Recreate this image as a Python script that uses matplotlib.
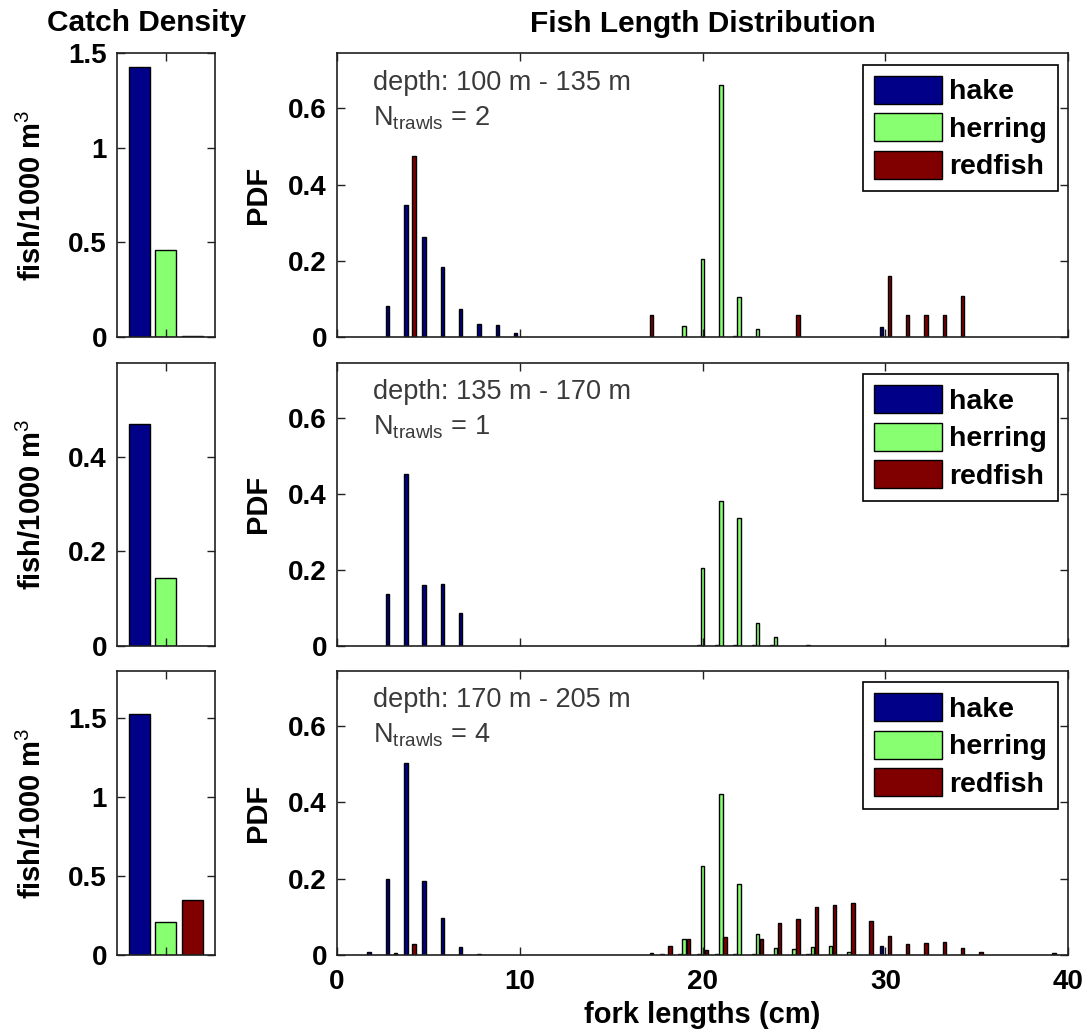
import numpy as np
import matplotlib
matplotlib.use("Agg")
import matplotlib.pyplot as plt
from matplotlib.patches import Patch
from matplotlib.ticker import FuncFormatter

plt.rcParams["font.family"] = ["Liberation Sans", "DejaVu Sans"]
plt.rcParams["mathtext.fontset"] = "custom"
plt.rcParams["mathtext.rm"] = "Liberation Sans"
plt.rcParams["mathtext.it"] = "Liberation Sans"

species = ["hake", "herring", "redfish"]
colors = ["#000088", "#88FF70", "#800000"]

depth_labels = ["depth: 100 m - 135 m", "depth: 135 m - 170 m", "depth: 170 m - 205 m"]
n_trawls = [2, 1, 4]

# catch density (fish / 1000 m^3), order hake, herring, redfish
density_1 = [1.43, 0.46, 0.005]
density_2 = [0.47, 0.143, 0.0]
density_3 = [1.524, 0.209, 0.350]
density_ylim = [1.5, 0.6, 1.8]
density_ticks = [[0, 0.5, 1, 1.5], [0, 0.2, 0.4], [0, 0.5, 1, 1.5]]

# length distributions (sparse: fork length cm -> PDF)
hake_len_1 = [3, 4, 5, 6, 7, 8, 9, 10, 22, 30]
hake_pdf_1 = [0.080, 0.346, 0.262, 0.183, 0.072, 0.034, 0.030, 0.011, 0.003, 0.025]
herring_len_1 = [19, 20, 21, 22, 23]
herring_pdf_1 = [0.027, 0.203, 0.661, 0.104, 0.020]
redfish_len_1 = [4, 17, 25, 30, 31, 32, 33, 34]
redfish_pdf_1 = [0.475, 0.058, 0.057, 0.159, 0.057, 0.057, 0.057, 0.108]

hake_len_2 = [3, 4, 5, 6, 7, 20, 21, 22, 23, 24, 26]
hake_pdf_2 = [0.135, 0.452, 0.159, 0.163, 0.085, 0.003, 0.003, 0.003, 0.003, 0.003, 0.003]
herring_len_2 = [20, 21, 22, 23, 24]
herring_pdf_2 = [0.204, 0.382, 0.335, 0.060, 0.023]
redfish_len_2 = []
redfish_pdf_2 = []

hake_len_3 = [2, 3, 4, 5, 6, 7, 8, 18, 19, 20, 21, 22, 23, 26, 30]
hake_pdf_3 = [0.009, 0.198, 0.502, 0.193, 0.096, 0.020, 0.003,
              0.003, 0.003, 0.003, 0.003, 0.003, 0.003, 0.003, 0.023]
herring_len_3 = [19, 20, 21, 22, 23, 24, 25, 26, 27, 28]
herring_pdf_3 = [0.041, 0.233, 0.422, 0.187, 0.054, 0.019, 0.015, 0.020, 0.023, 0.009]
redfish_len_3 = [3, 4, 17, 18, 19, 20, 21, 23, 24, 25, 26, 27, 28, 29, 30,
                 31, 32, 33, 34, 35, 39]
redfish_pdf_3 = [0.005, 0.028, 0.004, 0.023, 0.041, 0.014, 0.047, 0.041, 0.084,
                 0.094, 0.126, 0.130, 0.135, 0.088, 0.050, 0.028, 0.031, 0.035,
                 0.019, 0.009, 0.004]

densities = [density_1, density_2, density_3]
lengths = [(hake_len_1, herring_len_1, redfish_len_1),
           (hake_len_2, herring_len_2, redfish_len_2),
           (hake_len_3, herring_len_3, redfish_len_3)]
pdfs = [(hake_pdf_1, herring_pdf_1, redfish_pdf_1),
        (hake_pdf_2, herring_pdf_2, redfish_pdf_2),
        (hake_pdf_3, herring_pdf_3, redfish_pdf_3)]

W, H = 1090, 1035
fig = plt.figure(figsize=(W / 100, H / 100), dpi=100)

# panel rows in pixels (top, bottom)
rows = [(53.3, 336.7), (362.7, 645.7), (670.7, 955.0)]
left_x = (116.7, 215.0)
main_x = (336.7, 1068.3)

fmt = FuncFormatter(lambda v, pos: f"{v:g}")
offsets = [-2 / 9, 0, 2 / 9]
bar_w = 0.19
edge = "#202020"


def style_axes(ax):
    for s in ax.spines.values():
        s.set_color(edge)
        s.set_linewidth(1.2)
    ax.tick_params(direction="in", length=6, width=1, colors=edge,
                   top=True, right=True, labelsize=20, labelcolor="black")
    for lab in ax.get_xticklabels() + ax.get_yticklabels():
        lab.set_fontweight("bold")


for i, (top, bot) in enumerate(rows):
    h = (bot - top) / H
    y0 = 1 - bot / H

    # catch density
    axl = fig.add_axes([left_x[0] / W, y0, (left_x[1] - left_x[0]) / W, h])
    axl.bar([1, 2, 3], densities[i], width=0.8, color=colors, edgecolor="black", linewidth=1.0)
    axl.set_xlim(0.145, 3.855)
    axl.set_ylim(0, density_ylim[i])
    axl.set_yticks(density_ticks[i])
    axl.yaxis.set_major_formatter(fmt)
    axl.set_xticks([2])
    axl.set_xticklabels([])
    style_axes(axl)
    axl.tick_params(axis="y", pad=7)
    axl.set_ylabel(r"fish/1000 m$^3$", fontsize=21, fontweight="bold", va="center")
    axl.yaxis.set_label_coords(-0.86, 0.5)

    # length distribution
    ax = fig.add_axes([main_x[0] / W, y0, (main_x[1] - main_x[0]) / W, h])
    for k in range(3):
        if len(lengths[i][k]):
            ax.bar(np.array(lengths[i][k]) + offsets[k], pdfs[i][k], width=bar_w,
                   color=colors[k], edgecolor="black", linewidth=1.0)
    ax.set_xlim(0, 40)
    ax.set_ylim(0, 0.745)
    ax.set_xticks([0, 10, 20, 30, 40])
    ax.set_yticks([0, 0.2, 0.4, 0.6])
    ax.yaxis.set_major_formatter(fmt)
    if i < 2:
        ax.set_xticklabels([])
    style_axes(ax)
    ax.tick_params(axis="y", pad=7)
    ax.tick_params(axis="x", pad=10)
    ax.set_ylabel("PDF", fontsize=21, fontweight="bold", va="center")
    ax.yaxis.set_label_coords(-0.108, 0.5)

    ph = bot - top
    ax.text(0.049, 1 - 36.5 / ph, depth_labels[i], transform=ax.transAxes,
            fontsize=19.5, color="#3a3a3a", va="baseline", ha="left")
    ax.text(0.049, 1 - 72 / ph, r"N$_{\mathrm{trawls}}$ = %d" % n_trawls[i],
            transform=ax.transAxes, fontsize=19.5, color="#3a3a3a",
            va="baseline", ha="left")

    handles = [Patch(facecolor=c, edgecolor="black", linewidth=1) for c in colors]
    leg = ax.legend(handles, species, loc="upper right",
                    bbox_to_anchor=(0.9855, 0.959), borderaxespad=0,
                    prop={"size": 20.5, "weight": "bold"},
                    handlelength=2.4, handleheight=1.13,
                    handletextpad=0.25, labelspacing=0.28, borderpad=0.38,
                    fancybox=False, framealpha=1, shadow=False)
    leg.get_frame().set_edgecolor("black")
    leg.get_frame().set_linewidth(1.2)

fig.text(147 / W, 1 - 23 / H, "Catch Density", fontsize=21.5, fontweight="bold",
         ha="center", va="center")
fig.text((main_x[0] + main_x[1]) / 2 / W, 1 - 24 / H, "Fish Length Distribution",
         fontsize=21.5, fontweight="bold", ha="center", va="center")
fig.text((main_x[0] + main_x[1]) / 2 / W, 1 - 1015 / H, "fork lengths (cm)",
         fontsize=21, fontweight="bold", ha="center", va="center")

fig.savefig("out.png", dpi=100)
